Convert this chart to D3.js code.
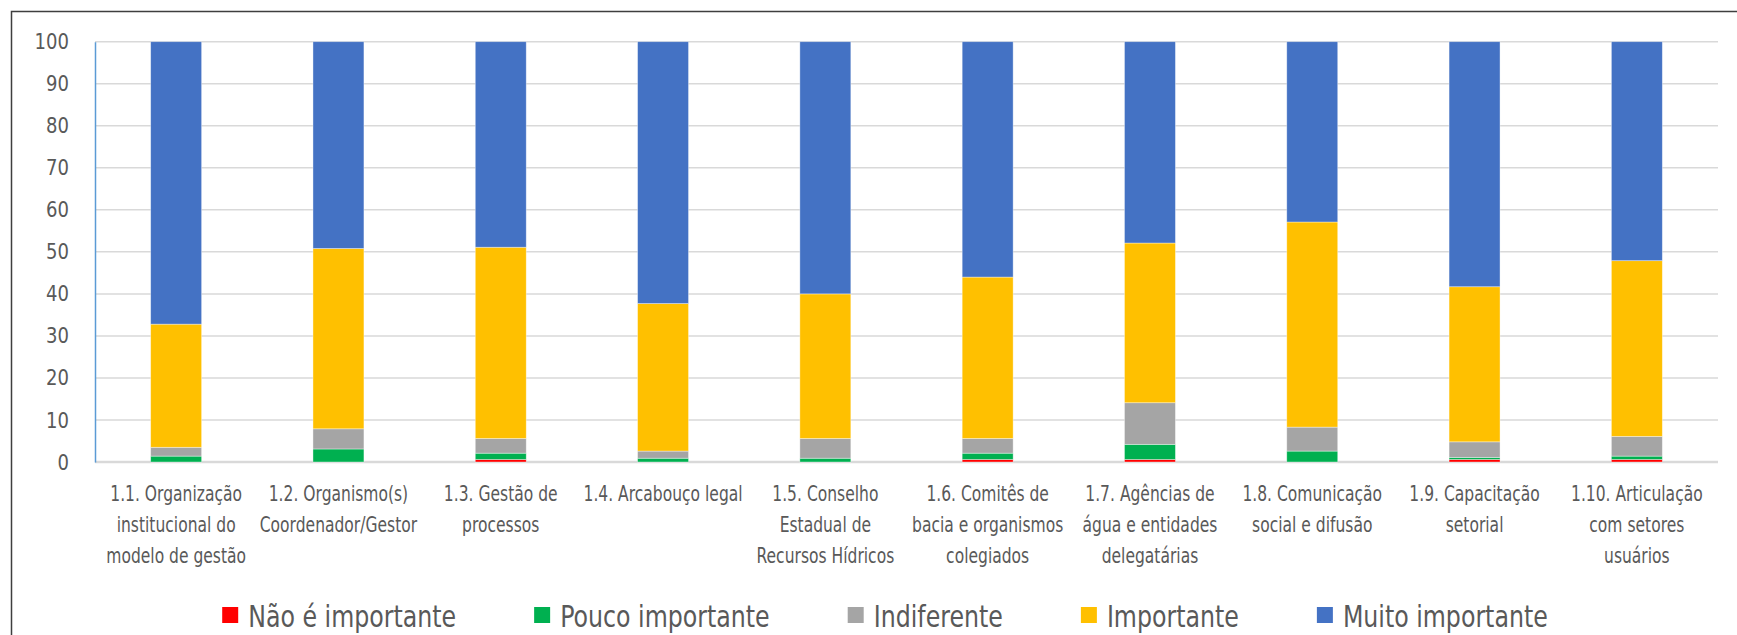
<!DOCTYPE html>
<html>
<head>
<meta charset="utf-8">
<script src="https://cdn.jsdelivr.net/npm/d3@7"></script>
<style>
  body { margin: 0; background: #fff; }
  text { font-family: "DejaVu Sans", sans-serif; fill: #595959; }
</style>
</head>
<body>
<svg id="myGraph" width="1737" height="635"></svg>
<script>
// categorias (rótulos em linhas como no gráfico)
var categories = ['1.1', '1.2', '1.3', '1.4', '1.5', '1.6', '1.7', '1.8', '1.9', '1.10'];
var categoryLines = [
  ['1.1. Organização', 'institucional do', 'modelo de gestão'],
  ['1.2. Organismo(s)', 'Coordenador/Gestor'],
  ['1.3. Gestão de', 'processos'],
  ['1.4. Arcabouço legal'],
  ['1.5. Conselho', 'Estadual de', 'Recursos Hídricos'],
  ['1.6. Comitês de', 'bacia e organismos', 'colegiados'],
  ['1.7. Agências de', 'água e entidades', 'delegatárias'],
  ['1.8. Comunicação', 'social e difusão'],
  ['1.9. Capacitação', 'setorial'],
  ['1.10. Articulação', 'com setores', 'usuários']
];

// séries (%)
var seriesNames = ['Não é importante', 'Pouco importante', 'Indiferente', 'Importante', 'Muito importante'];
var naoImportante   = [0, 0, 0.6, 0, 0, 0.6, 0.6, 0, 0.6, 0.6];
var poucoImportante = [1.4, 3.1, 1.5, 0.9, 0.9, 1.5, 3.6, 2.6, 0.5, 0.8];
var indiferente     = [2.1, 4.8, 3.5, 1.7, 4.7, 3.5, 9.9, 5.7, 3.7, 4.7];
var importante      = [29.3, 42.9, 45.5, 35.1, 34.4, 38.4, 38.0, 48.8, 36.9, 41.8];
var muitoImportante = [67.2, 49.2, 48.9, 62.3, 60.0, 56.0, 47.9, 42.9, 58.3, 52.1];
var colors = ['#FF0000', '#00B050', '#A5A5A5', '#FFC000', '#4472C4'];
var yTicks = [0, 10, 20, 30, 40, 50, 60, 70, 80, 90, 100];

var svg = d3.select('#myGraph');

// moldura
svg.append('path')
  .attr('d', 'M11.5,635 L11.5,11.5 L1737,11.5')
  .attr('fill', 'none')
  .attr('stroke', '#3f3f3f')
  .attr('stroke-width', 1.5);

var margin = { left: 95, right: 19, top: 41.7, bottom: 173 };
var width = 1737 - margin.left - margin.right;
var height = 635 - margin.top - margin.bottom;

var g = svg.append('g')
  .attr('transform', 'translate(' + margin.left + ',' + margin.top + ')');

var x = d3.scaleBand().domain(categories).range([0, width]).paddingInner(0.686).paddingOuter(0.343);
var y = d3.scaleLinear().domain([0, 100]).range([height, 0]);

// linhas de grade
g.selectAll('.grid')
  .data(yTicks)
  .enter()
  .append('line')
  .attr('x1', 0)
  .attr('x2', width)
  .attr('y1', function(d) { return y(d); })
  .attr('y2', function(d) { return y(d); })
  .attr('stroke', '#d9d9d9')
  .attr('stroke-width', function(d) { return d === 0 ? 2.5 : 1.5; });

// eixo Y
var yAxis = g.append('g')
  .call(d3.axisLeft(y).tickValues(yTicks).tickSize(0).tickPadding(26));
yAxis.select('.domain').attr('stroke', '#5B9BD5').attr('stroke-width', 1.5);
yAxis.selectAll('.tick text')
  .style('font-size', '22px')
  .attr('fill', '#595959')
  .attr('transform', 'translate(-26,0) scale(0.82,1) translate(26,0)');

// dados empilhados
var data = categories.map(function(c, i) {
  return {
    cat: c,
    s0: naoImportante[i],
    s1: poucoImportante[i],
    s2: indiferente[i],
    s3: importante[i],
    s4: muitoImportante[i]
  };
});
var stack = d3.stack().keys(['s0', 's1', 's2', 's3', 's4']);
var layers = stack(data);

g.selectAll('.layer')
  .data(layers)
  .enter()
  .append('g')
  .attr('fill', function(d, i) { return colors[i]; })
  .selectAll('rect')
  .data(function(d) { return d; })
  .enter()
  .append('rect')
  .attr('x', function(d) { return x(d.data.cat); })
  .attr('width', x.bandwidth())
  .attr('y', function(d) { return y(d[1]); })
  .attr('height', function(d) { return Math.max(0, y(d[0]) - y(d[1])); })
  .attr('stroke', '#ffffff')
  .attr('stroke-opacity', 0.5)
  .attr('stroke-width', 0.75);

// rótulos das categorias
var labels = g.selectAll('.catLabel')
  .data(categories)
  .enter()
  .append('g')
  .attr('transform', function(d) {
    return 'translate(' + (x(d) + x.bandwidth() / 2) + ',' + (height + 39) + ') scale(0.74,1)';
  })
  .append('text')
  .attr('class', 'catLabel')
  .attr('text-anchor', 'middle')
  .style('font-size', '21px');
labels.selectAll('tspan')
  .data(function(d, i) { return categoryLines[i]; })
  .enter()
  .append('tspan')
  .attr('x', 0)
  .attr('dy', function(d, i) { return i === 0 ? 0 : 31; })
  .text(function(d) { return d; });

// legenda
var legendScale = 0.79;
var legend = svg.append('g').attr('transform', 'translate(0,616)');
var items = legend.selectAll('.item')
  .data(seriesNames)
  .enter()
  .append('g')
  .attr('class', 'item');
items.append('rect')
  .attr('width', 16)
  .attr('height', 16)
  .attr('y', -9)
  .attr('fill', function(d, i) { return colors[i]; });
items.append('g')
  .attr('transform', 'translate(26,0) scale(' + legendScale + ',1)')
  .append('text')
  .attr('dy', '0.35em')
  .style('font-size', '30px')
  .text(function(d) { return d; });

var gap = 78;
var pos = 0, offsets = [];
items.each(function() {
  offsets.push(pos);
  pos += 26 + this.querySelector('text').getComputedTextLength() * legendScale + gap;
});
var total = pos - gap;
var startX = 885 - total / 2;
items.attr('transform', function(d, i) { return 'translate(' + (startX + offsets[i]) + ',0)'; });
</script>
</body>
</html>
